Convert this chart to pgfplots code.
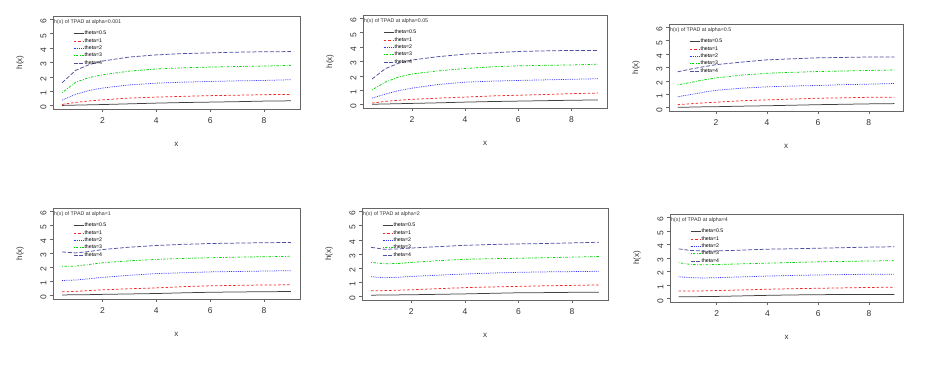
\documentclass[border=0pt]{standalone}
\usepackage{fontspec}
\setmainfont{Liberation Sans}
\usepackage{pgfplots}
\usepackage{pgfplotstable}
\pgfplotsset{compat=1.18}
\definecolor{rgreen}{RGB}{0,215,0}
\definecolor{rnavy}{RGB}{80,80,160}
\definecolor{rred}{RGB}{245,40,40}
\definecolor{rblue}{RGB}{50,50,255}

\pgfplotstableread{
x a b c d e
0.5 0.01 0.08 0.38 0.90 1.59
1 0.03 0.22 0.78 1.62 2.45
1.5 0.05 0.32 1.05 1.95 2.85
2 0.07 0.40 1.22 2.14 3.10
3 0.12 0.52 1.44 2.40 3.38
4 0.17 0.59 1.56 2.55 3.53
5 0.21 0.64 1.63 2.63 3.62
6 0.24 0.69 1.68 2.68 3.67
7 0.27 0.72 1.72 2.72 3.72
8 0.31 0.76 1.75 2.75 3.75
9 0.33 0.77 1.80 2.80 3.76
}\tA
\pgfplotstableread{
x a b c d e
0.5 0.02 0.10 0.45 1.02 1.78
1 0.04 0.22 0.73 1.56 2.50
1.5 0.06 0.30 0.97 1.92 2.88
2 0.08 0.36 1.14 2.13 3.10
3 0.12 0.45 1.40 2.35 3.34
4 0.17 0.52 1.56 2.51 3.51
5 0.21 0.60 1.63 2.63 3.60
6 0.24 0.65 1.68 2.70 3.70
7 0.27 0.70 1.72 2.73 3.74
8 0.30 0.76 1.76 2.76 3.77
9 0.32 0.80 1.80 2.81 3.77
}\tB
\pgfplotstableread{
x a b c d e
0.5 0.03 0.23 0.82 1.71 2.68
1 0.05 0.30 0.98 1.88 2.88
1.5 0.07 0.36 1.15 2.07 3.05
2 0.08 0.41 1.30 2.22 3.21
3 0.12 0.52 1.46 2.43 3.40
4 0.15 0.59 1.56 2.57 3.57
5 0.19 0.65 1.62 2.64 3.65
6 0.23 0.71 1.66 2.70 3.72
7 0.26 0.74 1.72 2.74 3.75
8 0.29 0.78 1.76 2.78 3.78
9 0.31 0.79 1.81 2.81 3.78
}\tC
\pgfplotstableread{
x a b c d e
0.5 0.05 0.27 1.08 2.10 3.11
1 0.06 0.30 1.11 2.10 3.04
1.5 0.07 0.36 1.20 2.22 3.14
2 0.09 0.41 1.30 2.34 3.28
3 0.12 0.49 1.45 2.48 3.45
4 0.15 0.55 1.57 2.58 3.57
5 0.20 0.64 1.63 2.65 3.65
6 0.24 0.70 1.69 2.70 3.71
7 0.26 0.73 1.72 2.74 3.74
8 0.28 0.76 1.75 2.77 3.77
9 0.29 0.77 1.78 2.80 3.78
}\tD
\pgfplotstableread{
x a b c d e
0.5 0.10 0.41 1.40 2.41 3.47
1 0.11 0.42 1.33 2.31 3.33
1.5 0.12 0.45 1.36 2.33 3.36
2 0.13 0.48 1.42 2.41 3.42
3 0.16 0.56 1.51 2.53 3.52
4 0.19 0.63 1.59 2.63 3.61
5 0.23 0.68 1.66 2.67 3.67
6 0.27 0.72 1.71 2.70 3.71
7 0.28 0.76 1.74 2.74 3.74
8 0.30 0.79 1.76 2.78 3.78
9 0.31 0.82 1.78 2.82 3.83
}\tE
\pgfplotstableread{
x a b c d e
0.5 0.15 0.57 1.62 2.65 3.67
1 0.15 0.57 1.55 2.52 3.55
1.5 0.16 0.58 1.53 2.50 3.52
2 0.17 0.60 1.55 2.52 3.52
3 0.21 0.65 1.61 2.57 3.58
4 0.25 0.70 1.67 2.62 3.65
5 0.28 0.74 1.72 2.67 3.68
6 0.30 0.77 1.75 2.72 3.72
7 0.31 0.80 1.78 2.75 3.76
8 0.32 0.83 1.80 2.78 3.80
9 0.32 0.85 1.80 2.80 3.83
}\tF

\pgfplotsset{
  rplot/.style={
    scale only axis, anchor=south west,
    xmin=0.16, xmax=9.34, ymin=-0.24, ymax=6.24,
    xtick={2,4,6,8}, ytick={0,1,2,3,4,5,6},
    xtick pos=bottom, ytick pos=left,
    tick align=outside, major tick length=3pt,
    axis line style={draw=black!60, line width=0.8pt},
    every tick/.style={draw=black!60, line width=0.6pt},
    /pgf/number format/assume math mode=true,
    ticklabel style={font=\fontsize{8.5}{9}\selectfont, text=black!80},
    yticklabel style={rotate=90, anchor=south, xshift=-2pt},
    xticklabel style={yshift=-2pt},
    xlabel={x}, ylabel={h(x)},
    label style={font=\fontsize{8}{9}\selectfont, text=black!80},
    xlabel style={at={([yshift=-35pt]axis description cs:0.5,0)}, anchor=center},
    ylabel style={at={([xshift=-33pt]axis description cs:0,0.5)}, anchor=center},
    legend style={draw=none, fill=none, at={([xshift=17pt,yshift=-12pt]rel axis cs:0,1)}, anchor=north west,
      font=\fontsize{5.2}{5.5}\selectfont, row sep=1pt, nodes={inner sep=0.6pt}},
    legend cell align=left,
    legend image code/.code={\draw[#1] (0pt,0pt) -- (10pt,0pt);},
  },
}

\newcommand\panel[6]{%
\begin{axis}[rplot, at={(#1pt,#2pt)}, width=#3pt, height=#4pt]
\addplot[draw=black!75, line width=0.75pt] table[x=x,y=a]{#5}; \addlegendentry{theta=0.5}
\addplot[draw=rred, line width=0.75pt, dash pattern=on 2.5pt off 2pt] table[x=x,y=b]{#5}; \addlegendentry{theta=1}
\addplot[draw=rblue, line width=0.75pt, dash pattern=on 0.8pt off 1pt] table[x=x,y=c]{#5}; \addlegendentry{theta=2}
\addplot[draw=rgreen, line width=0.75pt, dash pattern=on 0.8pt off 1.5pt on 2.4pt off 1.5pt] table[x=x,y=d]{#5}; \addlegendentry{theta=3}
\addplot[draw=rnavy, line width=0.75pt, dash pattern=on 4pt off 1.8pt] table[x=x,y=e]{#5}; \addlegendentry{theta=4}
\node[anchor=west, inner sep=1pt, font=\fontsize{5.3}{5.5}\selectfont, text=black!80] at ([yshift=-6.5pt]rel axis cs:0,1) {h(x) of TPAD at alpha=#6};
\end{axis}}

\begin{document}
\begin{tikzpicture}
\useasboundingbox (0pt,0pt) rectangle (931pt,369pt);
\panel{53}{260}{247}{93}{\tA}{0.001}
\panel{363}{261}{244}{93}{\tB}{0.05}
\panel{669}{258}{234}{87}{\tC}{0.5}
\panel{53}{70}{247}{91}{\tD}{1}
\panel{362}{69}{246}{92}{\tE}{2}
\panel{670}{67}{233}{88}{\tF}{4}
\end{tikzpicture}
\end{document}
